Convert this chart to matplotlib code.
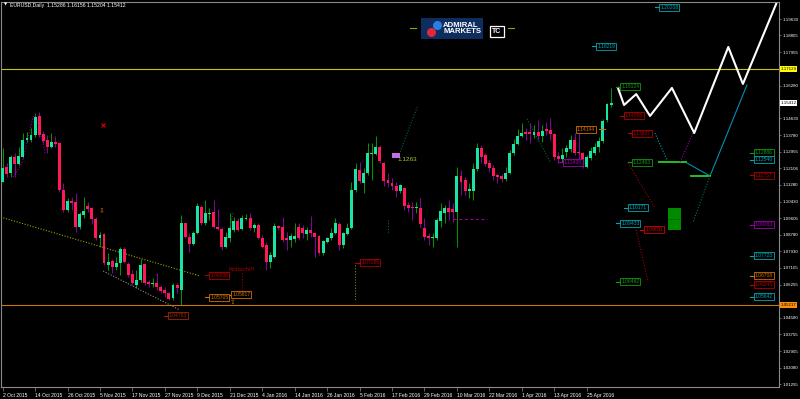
import numpy as np
import matplotlib.pyplot as plt
from matplotlib.patches import Rectangle

plt.rcParams['font.family'] = ['Liberation Sans', 'DejaVu Sans']

# EURUSD daily candles, bar 0 = 2 Oct 2015
opens = [1.1144, 1.1219, 1.1189, 1.1269, 1.1234, 1.1269, 1.1355, 1.1355, 1.1380, 1.1476,
         1.1385, 1.1355, 1.1320, 1.1345, 1.1340, 1.1103, 1.1003, 1.1048, 1.1043, 1.0917,
         1.0978, 1.1023, 1.1013, 1.0957, 1.0862, 1.0882, 1.0726, 1.0746, 1.0716, 1.0736,
         1.0807, 1.0731, 1.0681, 1.0625, 1.0651, 1.0731, 1.0641, 1.0630, 1.0636, 1.0615,
         1.0600, 1.0585, 1.0560, 1.0625, 1.0600, 1.0937, 1.0867, 1.0832, 1.0887, 1.1018,
         1.0937, 1.0983, 1.0993, 1.0917, 1.0907, 1.0817, 1.0862, 1.0902, 1.0947, 1.0907,
         1.0957, 1.0962, 1.0912, 1.0927, 1.0862, 1.0827, 1.0741, 1.0766, 1.0922, 1.0917,
         1.0862, 1.0852, 1.0857, 1.0917, 1.0912, 1.0882, 1.0902, 1.0887, 1.0872, 1.0786,
         1.0842, 1.0862, 1.0887, 1.0932, 1.0827, 1.0882, 1.0912, 1.1103, 1.1204, 1.1139,
         1.1189, 1.1284, 1.1284, 1.1320, 1.1239, 1.1154, 1.1139, 1.1123, 1.1098, 1.1113,
         1.1028, 1.1018, 1.1013, 1.1013, 1.0912, 1.0872, 1.0862, 1.0862, 1.0947, 1.0988,
         1.1013, 1.1008, 1.0993, 1.1174, 1.1154, 1.1098, 1.1098, 1.1209, 1.1315, 1.1279,
         1.1239, 1.1214, 1.1179, 1.1174, 1.1159, 1.1189, 1.1289, 1.1335, 1.1375, 1.1395,
         1.1395, 1.1380, 1.1395, 1.1375, 1.1410, 1.1405, 1.1385, 1.1274, 1.1259, 1.1294,
         1.1310, 1.1355, 1.1294, 1.1289, 1.1219, 1.1264, 1.1289, 1.1320, 1.1350, 1.1455,
         1.15286]
highs = [1.1315, 1.1239, 1.1279, 1.1289, 1.1320, 1.1390, 1.1395, 1.1415, 1.1491, 1.1496,
         1.1400, 1.1380, 1.1390, 1.1375, 1.1345, 1.1139, 1.1063, 1.1068, 1.1088, 1.0993,
         1.1068, 1.1043, 1.1018, 1.0967, 1.0892, 1.0887, 1.0786, 1.0756, 1.0766, 1.0817,
         1.0817, 1.0741, 1.0701, 1.0701, 1.0756, 1.0736, 1.0651, 1.0661, 1.0686, 1.0625,
         1.0615, 1.0590, 1.0636, 1.0636, 1.0978, 1.0942, 1.0887, 1.0897, 1.1038, 1.1028,
         1.1053, 1.1013, 1.1053, 1.1008, 1.0917, 1.0892, 1.0988, 1.0967, 1.0962, 1.0978,
         1.0983, 1.0988, 1.0937, 1.0937, 1.0877, 1.0842, 1.0791, 1.0937, 1.0927, 1.0967,
         1.0892, 1.0887, 1.0937, 1.0937, 1.0927, 1.0917, 1.0973, 1.0892, 1.0877, 1.0852,
         1.0867, 1.0912, 1.0962, 1.0942, 1.0892, 1.0937, 1.1144, 1.1239, 1.1244, 1.1214,
         1.1340, 1.1340, 1.1375, 1.1330, 1.1244, 1.1189, 1.1164, 1.1144, 1.1134, 1.1118,
         1.1043, 1.1043, 1.1043, 1.1063, 1.0962, 1.0887, 1.0887, 1.0962, 1.1038, 1.1028,
         1.1053, 1.1038, 1.1219, 1.1204, 1.1169, 1.1139, 1.1239, 1.1340, 1.1330, 1.1289,
         1.1254, 1.1229, 1.1184, 1.1184, 1.1219, 1.1304, 1.1360, 1.1410, 1.1440, 1.1415,
         1.1440, 1.1430, 1.1455, 1.1430, 1.1445, 1.1465, 1.1390, 1.1294, 1.1315, 1.1330,
         1.1380, 1.1390, 1.1405, 1.1294, 1.1279, 1.1320, 1.1340, 1.1370, 1.1460, 1.1541,
         1.16156]
lows = [1.1144, 1.1169, 1.1169, 1.1169, 1.1229, 1.1264, 1.1345, 1.1345, 1.1370, 1.1370,
        1.1340, 1.1289, 1.1315, 1.1320, 1.1093, 1.0993, 1.0993, 1.1003, 1.0892, 1.0907,
        1.0962, 1.0993, 1.0932, 1.0852, 1.0817, 1.0726, 1.0701, 1.0686, 1.0701, 1.0676,
        1.0736, 1.0666, 1.0625, 1.0610, 1.0641, 1.0625, 1.0615, 1.0615, 1.0600, 1.0585,
        1.0565, 1.0550, 1.0550, 1.0585, 1.0524, 1.0862, 1.0791, 1.0827, 1.0882, 1.0927,
        1.0927, 1.0952, 1.0912, 1.0902, 1.0801, 1.0812, 1.0842, 1.0892, 1.0897, 1.0902,
        1.0952, 1.0902, 1.0892, 1.0857, 1.0812, 1.0701, 1.0711, 1.0761, 1.0902, 1.0842,
        1.0801, 1.0817, 1.0842, 1.0852, 1.0862, 1.0852, 1.0867, 1.0766, 1.0776, 1.0776,
        1.0837, 1.0852, 1.0882, 1.0801, 1.0812, 1.0877, 1.0907, 1.1093, 1.1139, 1.1088,
        1.1179, 1.1154, 1.1279, 1.1239, 1.1123, 1.1118, 1.1103, 1.1068, 1.1088, 1.1003,
        1.0993, 1.0952, 1.0988, 1.0917, 1.0852, 1.0827, 1.0817, 1.0852, 1.0917, 1.0937,
        1.0952, 1.0942, 1.0817, 1.1078, 1.1078, 1.1063, 1.1053, 1.1199, 1.1239, 1.1224,
        1.1194, 1.1154, 1.1139, 1.1144, 1.1149, 1.1184, 1.1279, 1.1330, 1.1370, 1.1355,
        1.1340, 1.1365, 1.1355, 1.1345, 1.1380, 1.1355, 1.1254, 1.1239, 1.1244, 1.1269,
        1.1294, 1.1279, 1.1244, 1.1214, 1.1214, 1.1254, 1.1279, 1.1294, 1.1340, 1.1445,
        1.15204]
closes = [1.1214, 1.1184, 1.1269, 1.1234, 1.1274, 1.1355, 1.1365, 1.1380, 1.1471, 1.1380,
          1.1350, 1.1320, 1.1345, 1.1335, 1.1103, 1.1003, 1.1048, 1.1038, 1.0917, 1.0983,
          1.0998, 1.1008, 1.0957, 1.0862, 1.0877, 1.0736, 1.0741, 1.0716, 1.0736, 1.0807,
          1.0741, 1.0676, 1.0636, 1.0651, 1.0726, 1.0636, 1.0630, 1.0636, 1.0615, 1.0595,
          1.0585, 1.0555, 1.0625, 1.0610, 1.0937, 1.0867, 1.0832, 1.0887, 1.1023, 1.0937,
          1.0988, 1.0988, 1.0917, 1.0907, 1.0817, 1.0867, 1.0912, 1.0947, 1.0902, 1.0962,
          1.0962, 1.0912, 1.0927, 1.0862, 1.0817, 1.0741, 1.0776, 1.0922, 1.0912, 1.0852,
          1.0852, 1.0872, 1.0872, 1.0862, 1.0887, 1.0902, 1.0887, 1.0867, 1.0786, 1.0847,
          1.0862, 1.0887, 1.0937, 1.0827, 1.0887, 1.0912, 1.1103, 1.1209, 1.1149, 1.1189,
          1.1289, 1.1289, 1.1320, 1.1249, 1.1149, 1.1139, 1.1123, 1.1098, 1.1129, 1.1023,
          1.1013, 1.1013, 1.1018, 1.0932, 1.0867, 1.0862, 1.0867, 1.0952, 1.0998, 1.1013,
          1.0993, 1.0993, 1.1174, 1.1144, 1.1098, 1.1108, 1.1209, 1.1315, 1.1269, 1.1234,
          1.1214, 1.1174, 1.1169, 1.1159, 1.1189, 1.1289, 1.1335, 1.1375, 1.1390, 1.1385,
          1.1385, 1.1395, 1.1375, 1.1400, 1.1400, 1.1385, 1.1269, 1.1259, 1.1279, 1.1315,
          1.1355, 1.1289, 1.1289, 1.1219, 1.1269, 1.1299, 1.1320, 1.1350, 1.1450, 1.1536,
          1.15412]

date_labels = ['2 Oct 2015', '14 Oct 2015', '26 Oct 2015', '5 Nov 2015', '17 Nov 2015',
               '27 Nov 2015', '9 Dec 2015', '21 Dec 2015', '4 Jan 2016', '14 Jan 2016',
               '26 Jan 2016', '5 Feb 2016', '17 Feb 2016', '29 Feb 2016', '10 Mar 2016',
               '22 Mar 2016', '1 Apr 2016', '13 Apr 2016', '25 Apr 2016']
price_ticks = [1.19630, 1.18805, 1.17955, 1.16280, 1.14630, 1.13780, 1.12955, 1.12106,
               1.11280, 1.10430, 1.09605, 1.08780, 1.07930, 1.07105, 1.06255, 1.04580,
               1.03755, 1.02905, 1.02080, 1.01255]

# projection zigzag (bar index, price)
proj_x = [151.7, 153.2, 156.2, 159.6, 165.0, 170.5, 178.9, 182.5, 190.7]
proj_y = [1.1616, 1.1530, 1.1585, 1.1475, 1.1616, 1.1389, 1.1822, 1.1636, 1.2039]

# level boxes drawn inside the chart
box_text = ['1.16124', '1.14858', '1.13887', '1.12463', '1.10171', '1.09433', '1.09011',
            '1.06462', '1.14144', '1.12438', '1.07285', '1.06830', '1.05705', '1.05817',
            '1.04753', '1.20208', '1.18219']
box_x = [152.5, 153.4, 155.4, 155.4, 154.4, 152.5, 158.4, 152.5, 141.6, 138.4,
         88.4, 51.2, 51.2, 56.6, 41.0, 162.1, 146.6]
box_y = [1.1621, 1.1475, 1.1389, 1.1243, 1.1012, 1.0936, 1.0901, 1.0639, 1.1409, 1.1243,
         1.0735, 1.0674, 1.0563, 1.0574, 1.0468, 1.2023, 1.1827]
box_col = ['green', 'dred', 'dred', 'green', 'cyan', 'cyan', 'red', 'green', 'orange',
           'magenta', 'dred', 'dred', 'orange', 'orange', 'brown', 'cyan', 'cyan']

# level boxes at the right edge
edge_vals = [1.12886, 1.12540, 1.11757, 1.09283, 1.07723, 1.06708, 1.06245, 1.05642]
edge_col = ['green', 'cyan', 'dred', 'magenta', 'cyan', 'orange', 'dred', 'cyan']

palette = {'green': '#119a11', 'dred': '#b00000', 'red': '#d00000', 'cyan': '#00a6b0',
           'orange': '#d07000', 'magenta': '#a000b0', 'brown': '#a02800'}

o = np.array(opens)
h = np.array(highs)
l = np.array(lows)
c = np.array(closes)
x = np.arange(len(o))
up = c >= o

fig = plt.figure(figsize=(8, 3.99), dpi=100, facecolor='black')
ax = fig.add_axes([1 / 800, 12 / 399, 778 / 800, 385 / 399], facecolor='black')
ax.set_xlim(-0.4, 191.4)
ax.set_ylim(1.01104, 1.20486)

# candles
ax.vlines(x[up], l[up], h[up], color='#00b400', lw=0.6, zorder=2)
ax.vlines(x[~up], l[~up], h[~up], color='#a000c0', lw=0.6, zorder=2)
body_lo = np.minimum(o, c)
body_h = np.maximum(np.abs(c - o), 0.0005)
ax.bar(x[up], body_h[up], bottom=body_lo[up], width=0.72, color='#19e3a5', lw=0, zorder=3)
ax.bar(x[~up], body_h[~up], bottom=body_lo[~up], width=0.72, color='#ff1a55', lw=0, zorder=3)

# horizontal levels
ax.axhline(1.17129, color='#c8c800', lw=0.8)
ax.axhline(1.05217, color='#c87800', lw=0.8)

dot = (0, (1, 1.5))
# trend lines
ax.plot([-0.5, 48.7], [1.0966, 1.0669], color='#a0a000', lw=0.8, ls=dot)
ax.plot([24.8, 43.7], [1.0694, 1.0498], color='#909090', lw=0.8, ls=dot)
ax.plot([2.6, 4.8, 7.5, 8.2, 10.5], [1.1168, 1.1238, 1.1470, 1.1480, 1.1288],
        color='#9000a0', lw=0.8, ls=dot)
ax.plot([98.0, 102.2], [1.1294, 1.1520], color='#006a30', lw=0.8, ls=dot)
ax.plot([95.0, 95.0], [1.0951, 1.0886], color='#006a30', lw=0.8, ls=dot)
ax.plot([129.3, 135.0], [1.1460, 1.1243], color='#006a30', lw=0.8, ls=dot)
ax.plot([56.8, 55.3], [1.0986, 1.0850], color='#006a30', lw=0.8, ls=dot)
ax.plot([86.9, 86.9], [1.0725, 1.0548], color='#5a8a20', lw=0.8, ls=dot)
ax.plot([86.9, 88.2], [1.0735, 1.0735], color='#b00000', lw=0.8)
ax.plot([59.0, 59.0], [1.0684, 1.0589], color='#900000', lw=0.8, ls=dot)
ax.plot([111.0, 119.4], [1.0956, 1.0956], color='#900090', lw=0.8, ls=(0, (3, 2)))

# projection lines
ax.plot(proj_x, proj_y, color='white', lw=1.5, zorder=5)
ax.plot([160.8, 163.8], [1.1389, 1.1253], color='#00a0b0', lw=0.8, ls=dot)
ax.plot([168.7, 174.4, 183.5], [1.1238, 1.1173, 1.1631], color='#0090b0', lw=0.8)
ax.plot([161.8, 168.5], [1.1243, 1.1243], color='#22c022', lw=1.4)
ax.plot([169.7, 174.4], [1.1173, 1.1173], color='#22c022', lw=1.4)
ax.plot([167.0, 170.2], [1.1243, 1.1389], color='#a000b0', lw=0.8, ls=dot)
ax.plot([154.2, 160.8], [1.1238, 1.1012], color='#a00000', lw=0.8, ls=dot)
ax.plot([156.2, 159.1], [1.0901, 1.0639], color='#a00000', lw=0.8, ls=dot)
ax.plot([174.4, 170.2], [1.1173, 1.0941], color='#007a40', lw=0.8, ls=dot)
ax.add_patch(Rectangle((164.1, 1.0901), 3.2, 0.0111, fc='#008a00', ec='none', zorder=4))
ax.plot([164.1, 167.3], [1.0956, 1.0956], color='#005a00', lw=0.6, ls=(0, (2, 1)), zorder=5)

# markers and notes
ax.add_patch(Rectangle((96.0, 1.1263), 2.0, 0.0026, fc='#c070e0', ec='none', zorder=4))
ax.text(97.4, 1.1257, '1.1263', color='#9acd32', fontsize=4.6, va='center', ha='left')
ax.text(55.6, 1.0702, 'Kritisch!!!', color='#b00000', fontsize=4.6, va='center', ha='left')
ax.text(24.5, 1.0999, '\u21e9', color='#d07000', fontsize=5, ha='center', va='center',
        family='DejaVu Sans')
ax.text(56.8, 1.0540, '\u21e7', color='#d07000', fontsize=5, ha='center', va='center',
        family='DejaVu Sans')
ax.plot([24.8], [1.1429], marker='x', ms=2.2, mew=0.8, color='#e00000')


def level_box(xb, yv, text, col, stub='left'):
    ax.text(xb, yv, text, color=col, fontsize=3.6, ha='left', va='center', zorder=6,
            bbox=dict(boxstyle='square,pad=0.2', fc='black', ec=col, lw=0.6))
    if stub == 'left':
        ax.plot([xb - 1.3, xb - 0.2], [yv, yv], color=col, lw=0.8, zorder=5)
    else:
        ax.plot([xb + 5.4, xb + 6.8], [yv, yv], color=col, lw=0.8, zorder=5)


for t, bx, by, cname in zip(box_text, box_x, box_y, box_col):
    level_box(bx, by, t, palette[cname], 'right' if t == '1.14144' else 'left')
for v, cname in zip(edge_vals, edge_col):
    level_box(185.5, v, f'{v:.5f}', palette[cname])

# axes styling
for s in ax.spines.values():
    s.set_color('#8a8a8a')
    s.set_linewidth(0.8)
ax.yaxis.tick_right()
ax.set_yticks(price_ticks)
ax.set_yticklabels([f'{v:.5f}' for v in price_ticks])
ax.tick_params(axis='y', colors='#8a8a8a', labelcolor='white', labelsize=3.2,
               length=1.5, width=0.5, pad=1)
ax.set_xticks(range(0, 8 * len(date_labels), 8))
ax.set_xticklabels(date_labels)
for lab in ax.get_xticklabels():
    lab.set_horizontalalignment('left')
ax.tick_params(axis='x', colors='#8a8a8a', labelcolor='white', labelsize=3.6,
               length=3, width=0.5, pad=1)

# highlighted price tags on the scale
tags = [(1.17129, '#ffff00'), (1.15412, '#ffffff'), (1.05217, '#ff9000')]
for v, bg in tags:
    ax.text(1.002, v, f'{v:.5f}', transform=ax.get_yaxis_transform(), fontsize=3.2,
            color='black', ha='left', va='center', clip_on=False,
            bbox=dict(boxstyle='square,pad=0.2', fc=bg, ec='none'))

# header
fig.text(4 / 800, 1 - 5 / 399, '\u25bc', color='white', fontsize=3, va='center',
         family='DejaVu Sans')
fig.text(10 / 800, 1 - 5 / 399, 'EURUSD,Daily  1.15286 1.16156 1.15204 1.15412',
         color='white', fontsize=3.7, va='center')

# broker logo
fig.patches.append(Rectangle((421 / 800, 1 - 39 / 399), 62 / 800, 21 / 399,
                             transform=fig.transFigure, fc='#0c2d5e', ec='none'))
fig.lines.append(plt.Line2D([431 / 800], [1 - 32 / 399], marker='o', ms=5.5, color='#e0283c',
                            transform=fig.transFigure))
fig.lines.append(plt.Line2D([437 / 800], [1 - 25 / 399], marker='o', ms=5.5, color='#2a7de1',
                            transform=fig.transFigure))
fig.text(443 / 800, 1 - 28.5 / 399, 'ADMIRAL\nMARKETS', color='white', fontsize=5.6,
         fontweight='bold', va='center', ha='left', linespacing=0.9)
fig.text(497 / 800, 1 - 31.5 / 399, 'TC', color='white', fontsize=5, fontweight='bold',
         va='center', ha='center',
         bbox=dict(boxstyle='square,pad=0.35', fc='black', ec='white', lw=0.9))
fig.lines.append(plt.Line2D([410 / 800, 416 / 800], [1 - 28 / 399] * 2, color='#a0a000',
                            lw=0.8, transform=fig.transFigure))
fig.lines.append(plt.Line2D([508 / 800, 514 / 800], [1 - 28 / 399] * 2, color='#a0a000',
                            lw=0.8, transform=fig.transFigure))

fig.savefig('out.png', dpi=100, facecolor='black')
